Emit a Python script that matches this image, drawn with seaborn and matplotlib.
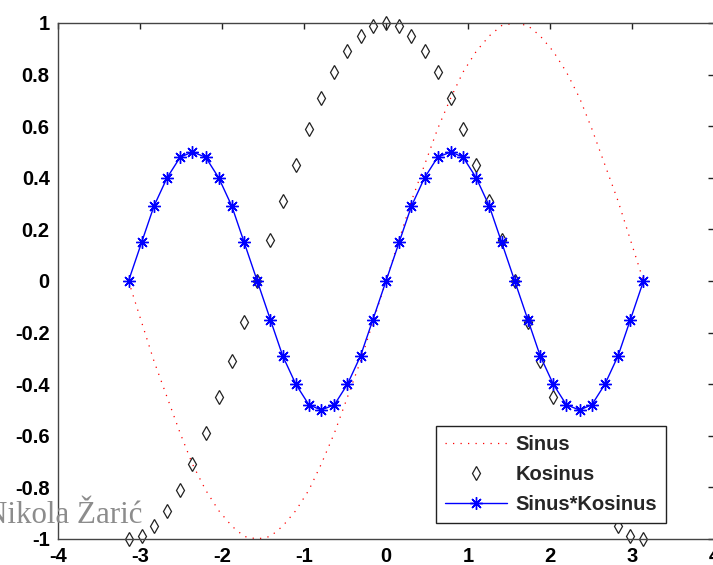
import matplotlib
matplotlib.use("Agg")
import matplotlib.pyplot as plt
import seaborn as sns

# Sample positions from -pi to pi in steps of pi/20
x = [-3.14, -2.98, -2.83, -2.67, -2.51, -2.36, -2.20, -2.04, -1.88, -1.73,
     -1.57, -1.41, -1.26, -1.10, -0.94, -0.79, -0.63, -0.47, -0.31, -0.16,
     0.00, 0.16, 0.31, 0.47, 0.63, 0.79, 0.94, 1.10, 1.26, 1.41,
     1.57, 1.73, 1.88, 2.04, 2.20, 2.36, 2.51, 2.67, 2.83, 2.98, 3.14]

sinus = [0.00, -0.16, -0.31, -0.45, -0.59, -0.71, -0.81, -0.89, -0.95, -0.99,
         -1.00, -0.99, -0.95, -0.89, -0.81, -0.71, -0.59, -0.45, -0.31, -0.16,
         0.00, 0.16, 0.31, 0.45, 0.59, 0.71, 0.81, 0.89, 0.95, 0.99,
         1.00, 0.99, 0.95, 0.89, 0.81, 0.71, 0.59, 0.45, 0.31, 0.16, 0.00]

kosinus = [-1.00, -0.99, -0.95, -0.89, -0.81, -0.71, -0.59, -0.45, -0.31, -0.16,
           0.00, 0.16, 0.31, 0.45, 0.59, 0.71, 0.81, 0.89, 0.95, 0.99,
           1.00, 0.99, 0.95, 0.89, 0.81, 0.71, 0.59, 0.45, 0.31, 0.16,
           0.00, -0.16, -0.31, -0.45, -0.59, -0.71, -0.81, -0.89, -0.95, -0.99, -1.00]

sinus_kosinus = [0.00, 0.15, 0.29, 0.40, 0.48, 0.50, 0.48, 0.40, 0.29, 0.15,
                 0.00, -0.15, -0.29, -0.40, -0.48, -0.50, -0.48, -0.40, -0.29, -0.15,
                 0.00, 0.15, 0.29, 0.40, 0.48, 0.50, 0.48, 0.40, 0.29, 0.15,
                 0.00, -0.15, -0.29, -0.40, -0.48, -0.50, -0.48, -0.40, -0.29, -0.15, 0.00]

labels = ["Sinus", "Kosinus", "Sinus*Kosinus"]
xticks = [-4, -3, -2, -1, 0, 1, 2, 3, 4]
xtick_labels = ["-4", "-3", "-2", "-1", "0", "1", "2", "3", "4"]
yticks = [-1, -0.8, -0.6, -0.4, -0.2, 0, 0.2, 0.4, 0.6, 0.8, 1]
ytick_labels = ["-1", "-0.8", "-0.6", "-0.4", "-0.2", "0", "0.2", "0.4", "0.6", "0.8", "1"]

sns.set_style("white")
plt.rcParams["font.family"] = ["Liberation Sans", "DejaVu Sans"]
plt.rcParams["font.weight"] = "bold"

fig = plt.figure(figsize=(7.13, 5.65), dpi=100)
ax = fig.add_axes([58 / 713, 26 / 565, 656 / 713, 516 / 565])

sns.lineplot(x=x, y=sinus, ax=ax, sort=False, estimator=None,
             color="#ff0000", linewidth=0.9, linestyle=(0, (1, 5)), label=labels[0])
sns.lineplot(x=x, y=kosinus, ax=ax, sort=False, estimator=None,
             color="black", linestyle="", marker="d", markersize=7.2,
             markerfacecolor="none", markeredgecolor="#222222",
             markeredgewidth=0.9, clip_on=False, label=labels[1])
sns.lineplot(x=x, y=sinus_kosinus, ax=ax, sort=False, estimator=None,
             color="#0000ff", linewidth=1.0, marker=(8, 2, 0), markersize=9,
             markeredgewidth=1.0, markeredgecolor="#0000ff", clip_on=False,
             label=labels[2])

ax.set_xlim(-4, 4)
ax.set_ylim(-1, 1)
ax.set_xticks(xticks)
ax.set_xticklabels(xtick_labels)
ax.set_yticks(yticks)
ax.set_yticklabels(ytick_labels)
ax.tick_params(direction="in", length=4, width=1, color="#222222",
               labelsize=14.5, pad=6, top=True, right=True,
               labelcolor="black")
for side in ["left", "right", "top", "bottom"]:
    ax.spines[side].set_visible(True)
    ax.spines[side].set_color("#444444")
    ax.spines[side].set_linewidth(1.0)

leg = ax.legend(loc="lower right", bbox_to_anchor=((666 - 58) / 656, (539 - 523) / 516),
                borderaxespad=0, fancybox=False, frameon=True, edgecolor="#222222",
                fontsize=14.5, handlelength=3.1, handletextpad=0.4,
                labelspacing=0.55, numpoints=1, borderpad=0.45)
leg.get_frame().set_linewidth(1.0)
leg.get_frame().set_facecolor("white")
leg.get_frame().set_alpha(1)

fig.text(-15 / 713, 1 - 523 / 565, "Nikola Žarić", fontsize=22.3, color="#8c8c8c",
         fontweight="normal", family=["Liberation Serif", "DejaVu Serif"],
         ha="left", va="baseline", zorder=10)

fig.savefig("out.png", dpi=100)
